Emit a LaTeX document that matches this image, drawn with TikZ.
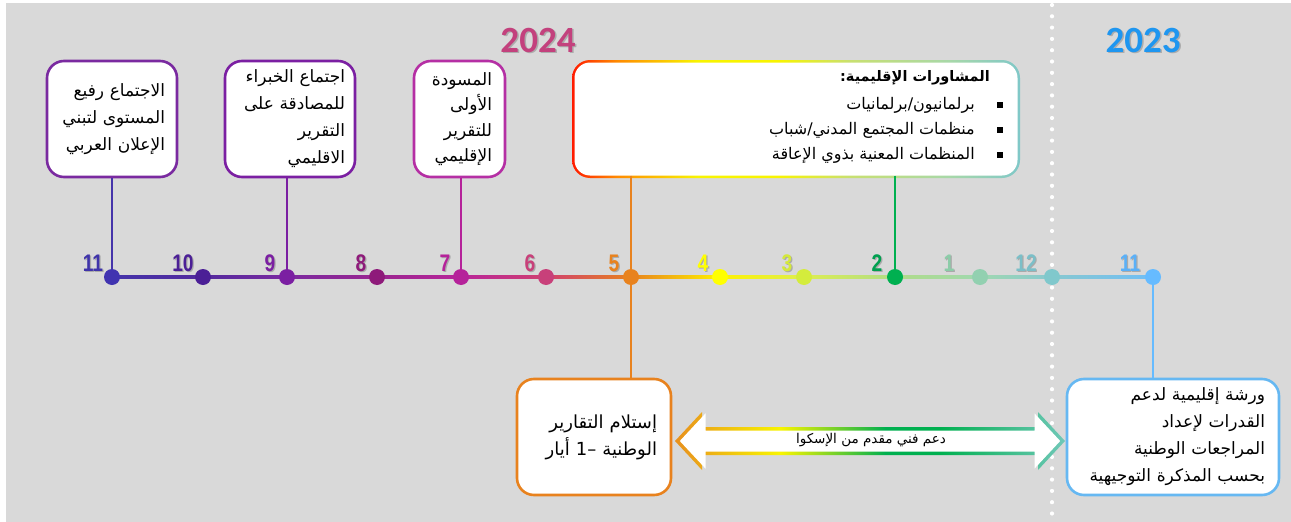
\documentclass[tikz,border=0pt]{standalone}
\usepackage{fontspec}
\usetikzlibrary{calc}
\TeXXeTstate=1
\newfontfamily\arabicfont[Script=Arabic]{DejaVu Sans}
\newfontfamily\numfont[FakeStretch=0.8]{Liberation Sans}
\newfontfamily\yearfont{Carlito}
\definecolor{bg}{HTML}{D9D9D9}
% dots
\definecolor{d11}{HTML}{4033B0}\definecolor{d10}{HTML}{4B1F96}\definecolor{d9}{HTML}{7B1FA2}
\definecolor{d8}{HTML}{8E1A7A}\definecolor{d7}{HTML}{B5229A}\definecolor{d6}{HTML}{C8407A}
\definecolor{d5}{HTML}{E8821E}\definecolor{d4}{HTML}{FFFF00}\definecolor{d3}{HTML}{D4EC3C}
\definecolor{d2}{HTML}{00B050}\definecolor{d1}{HTML}{92D0B0}\definecolor{d12}{HTML}{80C8CC}
\definecolor{dq}{HTML}{66BBFF}
% line
\definecolor{l11}{HTML}{4534AA}\definecolor{l10}{HTML}{532A9E}\definecolor{l9}{HTML}{7B2AA0}
\definecolor{l8}{HTML}{9A2590}\definecolor{l7}{HTML}{B8259A}\definecolor{l6}{HTML}{D04070}
\definecolor{l5}{HTML}{E8821E}\definecolor{l4}{HTML}{FFF200}\definecolor{l3}{HTML}{DDEE50}
\definecolor{l2}{HTML}{B0DC88}\definecolor{l1}{HTML}{A0D8B0}\definecolor{l12}{HTML}{88C8D0}
\definecolor{lq}{HTML}{70BEF5}
% numbers
\definecolor{n11}{HTML}{3F33AA}\definecolor{n10}{HTML}{4B1F96}\definecolor{n9}{HTML}{7B1FA2}
\definecolor{n8}{HTML}{8E1A7A}\definecolor{n7}{HTML}{B5229A}\definecolor{n6}{HTML}{C8407A}
\definecolor{n5}{HTML}{E8821E}\definecolor{n4}{HTML}{FFFF00}\definecolor{n3}{HTML}{D4E83C}
\definecolor{n2}{HTML}{00A050}\definecolor{n1}{HTML}{8CCCA8}\definecolor{n12}{HTML}{7BBFC8}
\definecolor{nq}{HTML}{5AB0F8}
% boxes
\definecolor{cA}{HTML}{7A2AA0}\definecolor{cB}{HTML}{7B1FA2}\definecolor{cC}{HTML}{B52FA4}
\definecolor{cE}{HTML}{E8821E}\definecolor{cF}{HTML}{66B8F2}
\definecolor{cRed}{HTML}{FF1A00}\definecolor{cOr}{HTML}{FF8A00}\definecolor{cYe}{HTML}{F8F400}
\definecolor{cYG}{HTML}{C8E070}\definecolor{cLG}{HTML}{A8D8A8}\definecolor{cTe}{HTML}{80C8C8}
\definecolor{aOr}{HTML}{E8901E}\definecolor{aGr}{HTML}{00B050}\definecolor{aTe}{HTML}{70C8B8}
\definecolor{y24}{HTML}{C3417D}\definecolor{y23}{HTML}{1E96F0}
\pgfdeclarehorizontalshading{boxDshade}{100bp}{color(0bp)=(cRed); color(25bp)=(cRed); color(30bp)=(cOr); color(39bp)=(cYe); color(48bp)=(cYe); color(56bp)=(cYG); color(67bp)=(cLG); color(75bp)=(cTe); color(100bp)=(cTe)}
\pgfdeclarehorizontalshading{arrowshade}{100bp}{color(0bp)=(aOr); color(25bp)=(aOr); color(38.5bp)=(cYe); color(52bp)=(aGr); color(59bp)=(aGr); color(75bp)=(aTe); color(100bp)=(aTe)}
\tikzset{
  ebox/.style={draw, line width=2.6pt, rounded corners=17pt, fill=white, inner sep=0pt, align=right},
  ar/.style={font=\arabicfont\fontsize{17}{27}\selectfont},
  conn/.style={line width=2.4pt},
  tdot/.style={circle, inner sep=0pt, minimum size=16pt},
  num/.style={font=\numfont\bfseries\fontsize{24}{24}\selectfont, inner sep=0pt},
  numsh/.style={num, text=black!45, opacity=0.6},
  year/.style={font=\yearfont\bfseries\fontsize{37}{37}\selectfont, inner sep=0pt},
  dtext/.style={anchor=east, font=\arabicfont\fontsize{16}{20}\selectfont, inner sep=0pt},
  bsq/.style={fill=black, minimum size=6pt, inner sep=0pt},
}
\newcommand\NumLbl[4]{%
  \node[numsh] at ($(#1)+(#2)+(1.2,1.2)$) {#4};
  \node[num, text=#3] (lbl-#1) at ($(#1)+(#2)$) {#4};}
\begin{document}
\begin{tikzpicture}[x=1pt,y=-1pt]
\useasboundingbox (0,0) rectangle (1291,522);
\fill[white] (0,0) rectangle (1291,522);
\fill[bg] (6,3) rectangle (1291,522);
\draw[white, line width=4.2pt, line cap=round, dash pattern=on 0pt off 11.3pt] (1052,5) -- (1052,522);

% years
\node[year, text=black!40, opacity=0.7] at (539.5,41.5) {2024};
\node[year, text=y24] (yr24) at (538,40) {2024};
\node[year, text=black!40, opacity=0.7] at (1144.5,41.5) {2023};
\node[year, text=y23] (yr23) at (1143,40) {2023};

% timeline coordinates
\coordinate (p11) at (112,277); \coordinate (p10) at (203,277); \coordinate (p9) at (287,277);
\coordinate (p8) at (377,277); \coordinate (p7) at (461,277); \coordinate (p6) at (546,277);
\coordinate (p5) at (631,277); \coordinate (p4) at (720,277); \coordinate (p3) at (804,277);
\coordinate (p2) at (895,277); \coordinate (p1) at (980,277); \coordinate (p12) at (1052,277);
\coordinate (pq) at (1153,277);

% boxes
\node[ebox, draw=cA, ar, minimum width=130pt, minimum height=116pt, text width=106pt] (A) at (112,119)
  {\beginR الاجتماع رفيع\endR\\\beginR المستوى لتبني\endR\\\beginR الإعلان العربي\endR};
\node[ebox, draw=cB, ar, minimum width=130pt, minimum height=116pt, text width=110pt] (B) at (290,119)
  {\beginR اجتماع الخبراء\endR\\\beginR للمصادقة على\endR\\\beginR التقرير\endR\\\beginR الاقليمي\endR};
\node[ebox, draw=cC, minimum width=91pt, minimum height=116pt, text width=65pt,
  font=\arabicfont\fontsize{17}{25.5}\selectfont] (C) at (459.5,119)
  {\beginR المسودة\endR\\\beginR الأولى\endR\\\beginR للتقرير\endR\\\beginR الإقليمي\endR};

\shade[shading=boxDshade, rounded corners=18pt] (572,60) rectangle (1020,178);
\node[fill=white, rounded corners=15.5pt, minimum width=443pt, minimum height=113pt, inner sep=0pt] (D) at (796,119) {};
\node[anchor=east, font=\arabicfont\bfseries\fontsize{14.5}{20}\selectfont, inner sep=0pt] (Dt) at (990,78) {\beginR المشاورات الإقليمية:\endR};
\node[dtext] (Db1) at (975,105) {\beginR برلمانيون/برلمانيات\endR};
\node[dtext] (Db2) at (975,130) {\beginR منظمات المجتمع المدني/شباب\endR};
\node[dtext] (Db3) at (975,155) {\beginR المنظمات المعنية بذوي الإعاقة\endR};
\node[bsq] (s1) at (1000,105) {};
\node[bsq] (s2) at (1000,130) {};
\node[bsq] (s3) at (1000,155) {};

\node[ebox, draw=cE, minimum width=154pt, minimum height=116pt, text width=126pt,
  font=\arabicfont\fontsize{18}{27}\selectfont] (E) at (594,437)
  {\beginR إستلام التقارير\endR\\\beginR الوطنية \beginL–1\endL{} أيار\endR};
\node[ebox, draw=cF, ar, minimum width=212pt, minimum height=116pt, text width=184pt] (F) at (1173,437)
  {\beginR ورشة إقليمية لدعم\endR\\\beginR القدرات لإعداد\endR\\\beginR المراجعات الوطنية\endR\\\beginR بحسب المذكرة التوجيهية\endR};

% connectors
\draw[conn, draw=l11] (A.south) -- (p11);
\draw[conn, draw=d9] (B.south -| p9) -- (p9);
\draw[conn, draw=d7] (C.south -| p7) -- (p7);
\draw[conn, draw=d5] (D.south -| p5) -- (p5);
\draw[conn, draw=d5] (p5) -- (p5 |- E.north);
\draw[conn, draw=d2] (D.south -| p2) -- (p2);
\draw[conn, draw=dq] (pq) -- (pq |- F.north);

% timeline segments
\foreach \a/\b/\ca/\cb in {p11/p10/l11/l10, p10/p9/l10/l9, p9/p8/l9/l8, p8/p7/l8/l7, p7/p6/l7/l6,
  p6/p5/l6/l5, p5/p4/l5/l4, p4/p3/l4/l3, p3/p2/l3/l2, p2/p1/l2/l1, p1/p12/l1/l12, p12/pq/l12/lq}
  \shade[left color=\ca, right color=\cb] ($(\a)+(0,-1.8)$) rectangle ($(\b)+(0,1.8)$);

% dots
\foreach \p/\c in {p11/d11, p10/d10, p9/d9, p8/d8, p7/d7, p6/d6, p5/d5, p4/d4, p3/d3, p2/d2, p1/d1, p12/d12, pq/dq}
  \node[tdot, fill=\c] (dot-\p) at (\p) {};

% numbers
\NumLbl{p11}{-19,-14}{n11}{11}
\NumLbl{p10}{-20,-14}{n10}{10}
\NumLbl{p9}{-17,-14}{n9}{9}
\NumLbl{p8}{-16,-14}{n8}{8}
\NumLbl{p7}{-16,-14}{n7}{7}
\NumLbl{p6}{-16,-14}{n6}{6}
\NumLbl{p5}{-17,-14}{n5}{5}
\NumLbl{p4}{-17,-14}{n4}{4}
\NumLbl{p3}{-17,-14}{n3}{3}
\NumLbl{p2}{-18,-14}{n2}{2}
\NumLbl{p1}{-31,-14}{n1}{1}
\NumLbl{p12}{-26,-14}{n12}{12}
\NumLbl{pq}{-23,-14}{nq}{11}

% double arrow
\coordinate (aL) at (675,441);
\coordinate (aR) at (1065,441);
\shade[shading=arrowshade] (aL) -- (702,412) -- (702,427) -- (1038,427) -- (1038,412) -- (aR)
  -- (1038,470) -- (1038,455) -- (702,455) -- (702,470) -- cycle;
\fill[white] (679.8,441) -- (705.5,413.4) -- (705.5,430.5) -- (1034.5,430.5) -- (1034.5,413.4) -- (1060.2,441)
  -- (1034.5,468.6) -- (1034.5,451.5) -- (705.5,451.5) -- (705.5,468.6) -- cycle;
\node[font=\arabicfont\fontsize{13.5}{16}\selectfont, inner sep=0pt] (albl) at (871,440) {\beginR دعم فني مقدم من الإسكوا\endR};
\end{tikzpicture}
\end{document}
